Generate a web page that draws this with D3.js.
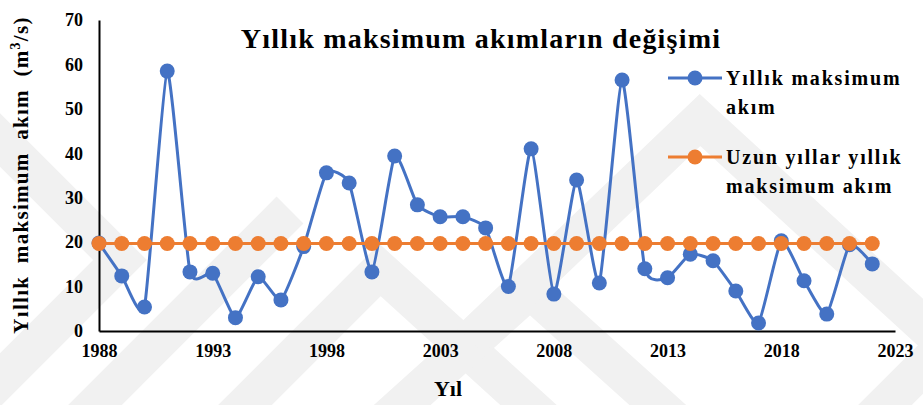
<!DOCTYPE html>
<html>
<head>
<meta charset="utf-8">
<script src="https://cdn.jsdelivr.net/npm/d3@7"></script>
<style>
  body { margin: 0; background: #fff; }
</style>
</head>
<body>
<div id="chart"></div>
<script>
// data
const years = d3.range(1988, 2023);
const maxFlow = [19.8, 12.4, 5.4, 58.5, 13.3, 13.0, 3.0, 12.2, 7.0, 19.0,
                 35.6, 33.3, 13.3, 39.4, 28.4, 25.7, 25.7, 23.2, 10.0, 41.0,
                 8.3, 34.0, 10.8, 56.5, 14.0, 12.0, 17.3, 15.8, 9.0, 1.8,
                 20.3, 11.3, 3.8, 19.4, 15.1];
const meanFlow = years.map(() => 19.7);
const xTicks = [1988, 1993, 1998, 2003, 2008, 2013, 2018, 2023];
const yTicks = [0, 10, 20, 30, 40, 50, 60, 70];
const colors = ["#4472C4", "#ED7D31"];

const serif = "'Liberation Serif', 'DejaVu Serif', 'Times New Roman', serif";
const width = 923, height = 405;
const margin = {top: 20, right: 28, bottom: 74, left: 99};

const svg = d3.select("#chart")
    .append("svg")
    .attr("width", width)
    .attr("height", height)
    .attr("font-family", serif)
    .attr("font-weight", "bold");

// faint watermark chevrons in the background
const wm = svg.append("g")
    .attr("fill", "none")
    .attr("stroke", "#f1f1f1")
    .attr("stroke-width", 38);
[[[ -60, 80], [120, 260], [-60, 440]],
 [[180, 470], [380, 270], [600, 470]],
 [[330, 470], [530, 290], [730, 470]],
 [[470, 340], [700, 120], [940, 340]],
 [[820, 470], [1000, 290]],
 [[80, 420], [290, 210]]].forEach(pts => {
    wm.append("path").attr("d", d3.line()(pts));
});

const x = d3.scaleLinear()
    .domain([1988, 2023])
    .range([margin.left, width - margin.right]);

const y = d3.scaleLinear()
    .domain([0, 70])
    .range([height - margin.bottom, margin.top]);

// axes: only the axis lines, no ticks
const xAxis = svg.append("g")
    .attr("transform", "translate(0," + y(0) + ")")
    .call(d3.axisBottom(x).tickValues(xTicks).tickFormat(d3.format("d")).tickSize(0).tickPadding(13));
xAxis.attr("font-family", serif).attr("font-size", 18);
xAxis.select(".domain").attr("stroke", "#000").attr("stroke-width", 2);

const yAxis = svg.append("g")
    .attr("transform", "translate(" + x(1988) + ",0)")
    .call(d3.axisLeft(y).tickValues(yTicks).tickSize(0).tickPadding(16));
yAxis.attr("font-family", serif).attr("font-size", 18);
yAxis.select(".domain").attr("stroke", "#000").attr("stroke-width", 2);

// title
svg.append("text")
    .attr("x", 481)
    .attr("y", 48)
    .attr("text-anchor", "middle")
    .attr("font-size", 28)
    .style("letter-spacing", "1.2px")
    .text("Yıllık maksimum akımların değişimi");

// axis titles
svg.append("text")
    .attr("x", 448)
    .attr("y", 396)
    .attr("text-anchor", "middle")
    .attr("font-size", 22)
    .text("Yıl");

const yLab = svg.append("text")
    .attr("transform", "translate(28,175) rotate(-90)")
    .attr("text-anchor", "middle")
    .attr("font-size", 21)
    .style("letter-spacing", "1.3px")
    .style("word-spacing", "6px");
yLab.append("tspan").text("Yıllık maksimum akım (m");
yLab.append("tspan").attr("dy", -8).attr("font-size", 14).text("3");
yLab.append("tspan").attr("dy", 8).text("/s)");

// series
const line = d3.line()
    .x((d, i) => x(years[i]))
    .y(d => y(d))
    .curve(d3.curveCardinal.tension(0.5));

[maxFlow, meanFlow].forEach((vals, k) => {
    const g = svg.append("g");
    g.append("path")
        .datum(vals)
        .attr("fill", "none")
        .attr("stroke", colors[k])
        .attr("stroke-width", 3)
        .attr("d", line);
    g.selectAll("circle")
        .data(vals)
        .enter()
        .append("circle")
        .attr("cx", (d, i) => x(years[i]))
        .attr("cy", d => y(d))
        .attr("r", 7.5)
        .attr("fill", colors[k]);
});

// legend
const legendLines = [["Yıllık maksimum", "akım"], ["Uzun yıllar yıllık", "maksimum akım"]];
const legendY = [78, 157];
legendLines.forEach((lines, k) => {
    const g = svg.append("g").attr("transform", "translate(668," + legendY[k] + ")");
    g.append("line")
        .attr("x1", 0).attr("x2", 54)
        .attr("stroke", colors[k]).attr("stroke-width", 3);
    g.append("circle").attr("cx", 27).attr("r", 7.5).attr("fill", colors[k]);
    lines.forEach((t, j) => {
        g.append("text")
            .attr("x", 58)
            .attr("y", 7 + j * 29)
            .attr("font-size", 20)
            .style("letter-spacing", "1.8px")
            .text(t);
    });
});
</script>
</body>
</html>
